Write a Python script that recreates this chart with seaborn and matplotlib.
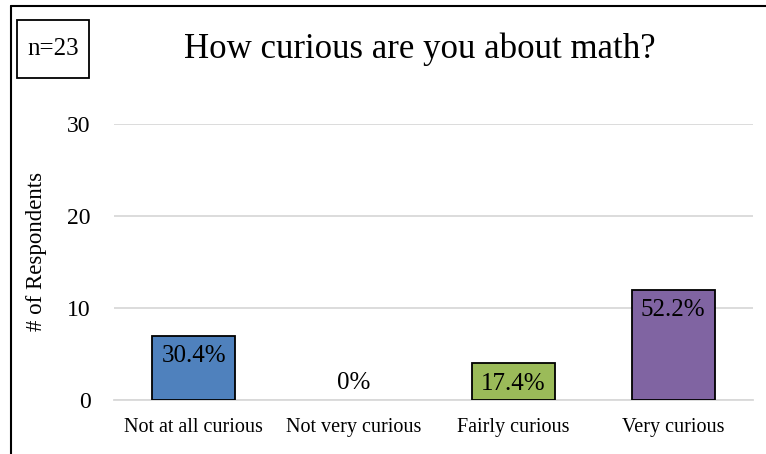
import matplotlib
matplotlib.use("Agg")
import matplotlib.pyplot as plt
import seaborn as sns
import pandas as pd
from matplotlib.lines import Line2D
from matplotlib.patches import Rectangle

categories = ["Not at all curious", "Not very curious", "Fairly curious", "Very curious"]
counts = [7, 0, 4, 12]
pct_labels = ["30.4%", "0%", "17.4%", "52.2%"]
colors = ["#4F81BD", "#4F81BD", "#9BBB59", "#8064A2"]
title = "How curious are you about math?"
n_label = "n=23"
yticks = [0, 10, 20, 30]

sns.set_theme(style="white")
plt.rcParams["font.family"] = ["Liberation Serif", "DejaVu Serif"]
plt.rcParams["text.color"] = "black"
plt.rcParams["axes.labelcolor"] = "black"
plt.rcParams["xtick.color"] = "black"
plt.rcParams["ytick.color"] = "black"

df = pd.DataFrame({"cat": categories, "count": counts})

fig = plt.figure(figsize=(7.66, 4.54), dpi=100)
ax = fig.add_axes([114/766, 1-400/454, (753-114)/766, (400-124)/454])

sns.barplot(data=df, x="cat", y="count", hue="cat", palette=colors, legend=False,
            saturation=1, width=0.52, edgecolor="black", linewidth=1.3, ax=ax, zorder=3)
for p in ax.patches:
    if p.get_height() == 0:
        p.set_visible(False)

ax.set_ylim(0, 30)
ax.set_yticks(yticks)
ax.yaxis.grid(True, color="#D9D9D9", linewidth=1.3, zorder=0)
ax.xaxis.grid(False)
for s in ["top", "right", "left"]:
    ax.spines[s].set_visible(False)
ax.spines["bottom"].set_color("#D9D9D9")
ax.spines["bottom"].set_linewidth(1.3)
ax.spines["bottom"].set_zorder(1)
ax.tick_params(axis="y", labelsize=17, length=0, pad=17)
ax.tick_params(axis="x", labelsize=14.5, length=0, pad=13)
ax.set_xlabel("")
ax.set_ylabel("# of Respondents", fontsize=16.5)
ax.yaxis.set_label_coords(-0.105, 0.54)

for i, (c, lab) in enumerate(zip(counts, pct_labels)):
    if c == 0:
        ax.annotate(lab, (i, c), xytext=(0, 4), textcoords="offset points",
                    ha="center", va="bottom", fontsize=18, zorder=5)
    else:
        ax.annotate(lab, (i, c), xytext=(0, -7), textcoords="offset points",
                    ha="center", va="top", fontsize=18, zorder=5)

# Title and n box
fig.text(420/766, 1-49/454, title, ha="center", va="center", fontsize=25)
fig.add_artist(Rectangle((17/766, 1-78/454), 72/766, 58/454, transform=fig.transFigure,
                         facecolor="white", edgecolor="black", linewidth=1.3))
fig.text(53/766, 1-49/454, n_label, ha="center", va="center", fontsize=18)

# Outer border (top and left)
fig.add_artist(Line2D([10.5/766, 1.0], [1-6/454, 1-6/454], transform=fig.transFigure, color="black", linewidth=1.5))
fig.add_artist(Line2D([10.5/766, 10.5/766], [0, 1-6/454], transform=fig.transFigure, color="black", linewidth=1.5))

fig.savefig("out.png", dpi=100)
